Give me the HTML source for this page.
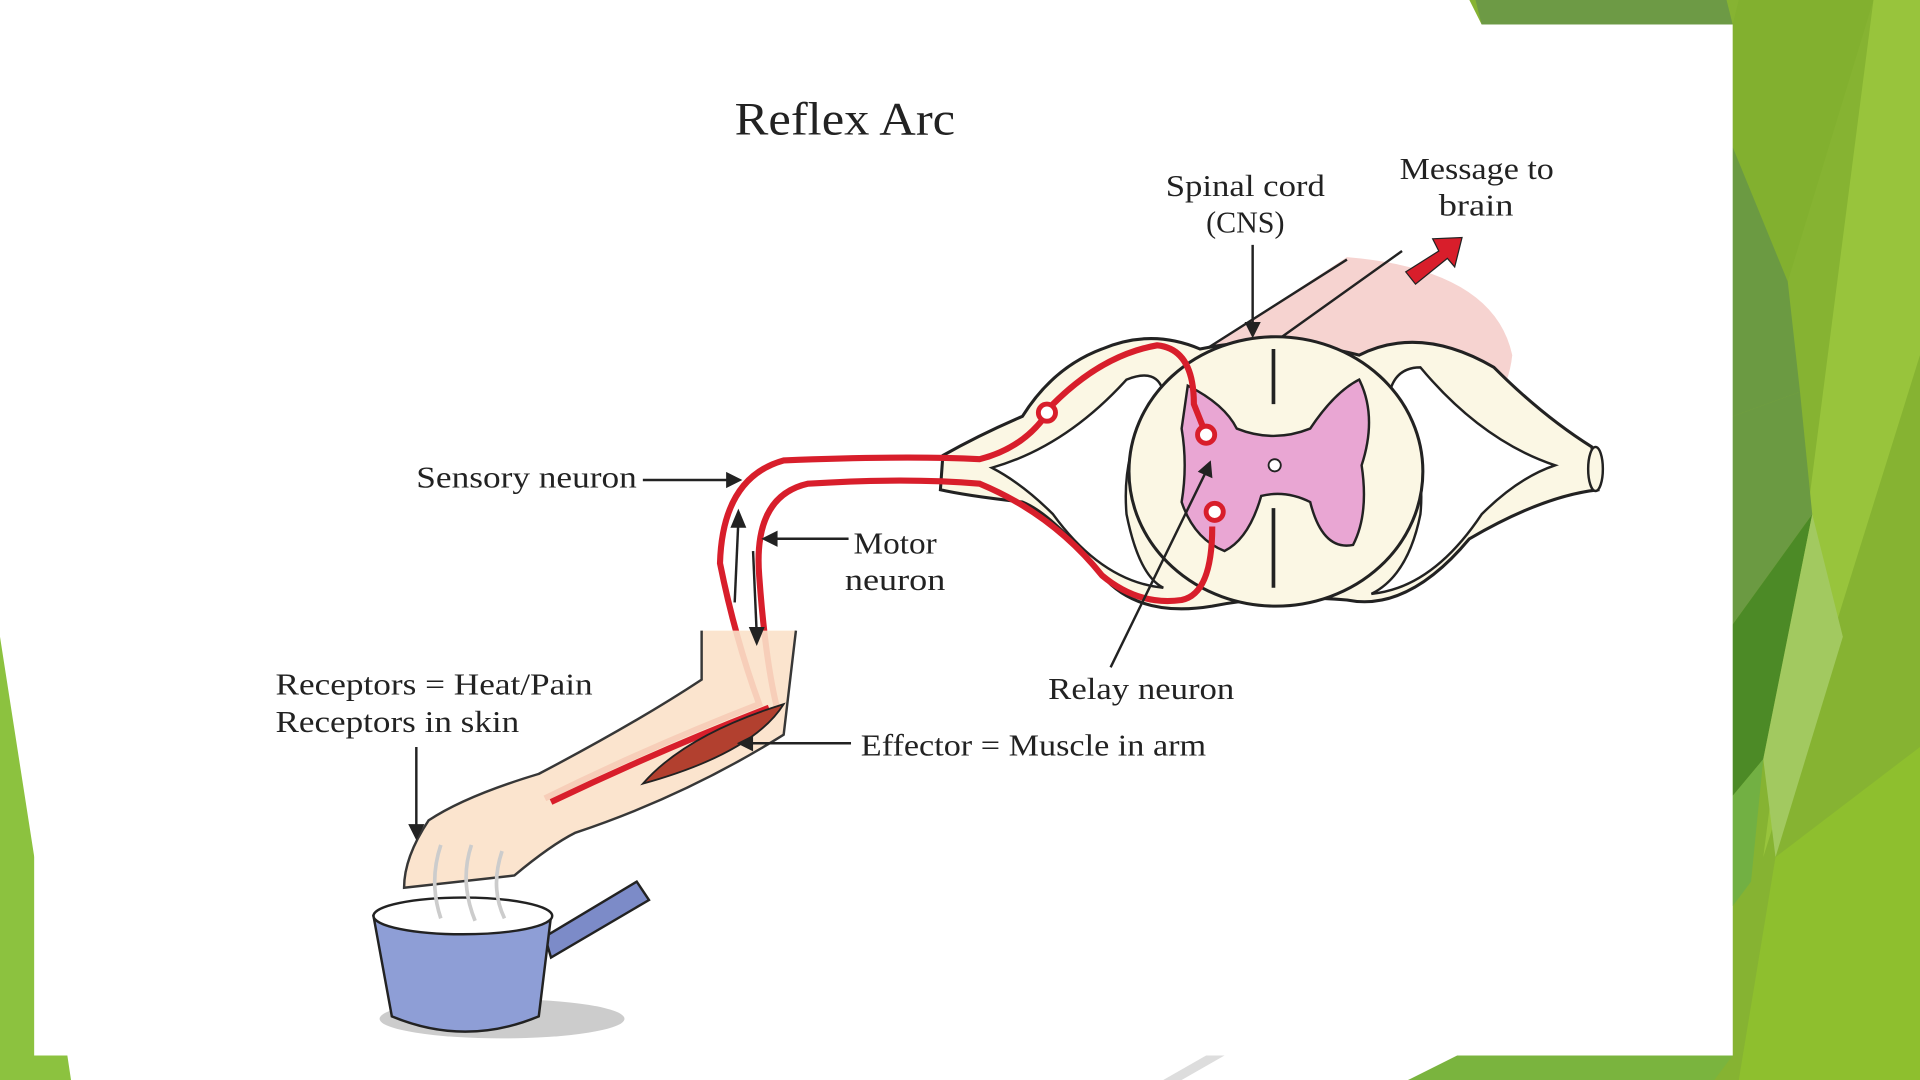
<!DOCTYPE html>
<html><head><style>html,body{margin:0;padding:0;background:#fff}svg{display:block}
text{font-family:"Liberation Serif",serif;fill:#222}</style></head><body>
<svg width="1920" height="1080" viewBox="0 0 1568 882" preserveAspectRatio="none">
<rect width="1568" height="882" fill="#fff"/>
<polygon points="1200,0 1568,0 1568,882 1150,882 1200,862 1415,862 1415,20 1210,20" fill="#86b332"/>
<polygon points="1205,0 1410,0 1415,20 1210,20" fill="#6d9a45"/>
<polygon points="1415,20 1420,0 1530,0 1460,230 1415,120" fill="#82b02f"/>
<polygon points="1530,0 1568,0 1568,290 1440,700" fill="#98c43c"/>
<polygon points="1415,120 1460,230 1470,320 1415,340" fill="#6b9a42"/>
<polygon points="1415,340 1470,320 1480,420 1415,510" fill="#6b9a42"/>
<polygon points="1415,510 1480,420 1440,620 1415,650" fill="#4c8a26"/>
<polygon points="1440,620 1480,420 1505,520 1450,700" fill="#a2c960"/>
<polygon points="1415,650 1440,620 1430,720 1415,740" fill="#72b043"/>
<polygon points="1450,700 1568,610 1568,882 1420,882" fill="#8ebf2e"/>
<polygon points="1150,882 1190,862 1415,862 1400,882" fill="#7ab43e"/>
<polygon points="0,520 28,700 28,862 55,862 58,882 0,882" fill="#8cc23f"/>
<rect x="28" y="20" width="1387" height="842" fill="#fff"/>
<polygon points="950,882 985,862 1000,862 965,882" fill="#ddd"/>

<text x="600" y="110" font-size="38" textLength="180" lengthAdjust="spacingAndGlyphs" fill="#111">Reflex Arc</text>

<path d="M985,285 L1100,210 Q1220,220 1235,290 Q1230,340 1170,380 L1140,380 Z" fill="#f6d3d0"/>
<path d="M985,285 L1100,212 M1040,280 L1145,205" stroke="#222" stroke-width="2" fill="none"/>
<path d="M770,372 Q800,355 835,340 Q860,300 900,285 Q940,268 980,285 Q1040,272 1110,290 Q1160,265 1220,300 Q1260,340 1300,365 L1305,400 Q1260,405 1200,440 Q1150,500 1100,490 Q1040,485 990,495 Q930,505 900,470 Q860,420 835,410 Q790,405 768,400 Z" fill="#fbf7e4" stroke="#222" stroke-width="2.5"/>
<path d="M810,382 Q870,365 920,310 Q945,300 950,320 Q915,360 920,420 Q930,470 950,480 Q900,475 860,420 Q835,395 810,382 Z" fill="#fff" stroke="#222" stroke-width="2"/>
<path d="M1270,380 Q1210,360 1160,300 Q1140,300 1135,320 Q1165,370 1160,420 Q1150,470 1120,485 Q1170,480 1210,420 Q1240,390 1270,380 Z" fill="#fff" stroke="#222" stroke-width="2"/>
<ellipse cx="1042" cy="385" rx="120" ry="110" fill="#fbf7e4" stroke="#222" stroke-width="2.5"/>
<ellipse cx="1303" cy="383" rx="6" ry="18" fill="#fbf7e4" stroke="#222" stroke-width="2"/>
<path d="M970,315 Q1000,330 1010,350 Q1040,362 1070,350 Q1090,320 1110,310 Q1125,340 1112,380 Q1118,420 1105,445 Q1080,450 1070,410 Q1050,400 1030,405 Q1020,440 1000,450 Q975,440 965,410 Q970,380 965,350 Z" fill="#e9a6d3" stroke="#222" stroke-width="2"/>
<circle cx="1041" cy="380" r="5" fill="#fff" stroke="#222" stroke-width="1.5"/>
<path d="M1040,285 L1040,330 M1040,415 L1040,480" stroke="#222" stroke-width="3"/>
<path d="M445,652 Q530,610 620,575 Q600,520 588,460 Q590,390 640,376 Q740,372 800,375 Q840,365 860,330 Q900,290 945,282 Q975,285 975,330 L985,355" fill="none" stroke="#d81e2b" stroke-width="5"/>
<path d="M635,580 Q625,540 620,470 Q615,405 660,395 Q740,390 800,395 Q860,420 900,470 Q930,495 965,490 Q990,485 990,430" fill="none" stroke="#d81e2b" stroke-width="5"/>
<circle cx="855" cy="337" r="7" fill="#fff" stroke="#d81e2b" stroke-width="4"/>
<circle cx="985" cy="355" r="7" fill="#fff" stroke="#d81e2b" stroke-width="4"/>
<circle cx="992" cy="418" r="7" fill="#fff" stroke="#d81e2b" stroke-width="4"/>
<path d="M573,515 L573,555 Q520,590 440,632 Q380,650 350,670 Q330,700 330,725 L420,715 Q450,690 470,680 Q560,650 640,600 L650,515" fill="#fbe2c9" stroke="#222" stroke-width="2" opacity="0.9"/>
<path d="M450,655 Q540,612 628,578" fill="none" stroke="#d81e2b" stroke-width="5"/>
<path d="M525,640 Q560,600 640,575 Q615,615 525,640 Z" fill="#b2402f" stroke="#222" stroke-width="1.5"/>
<ellipse cx="410" cy="832" rx="100" ry="16" fill="#ccc"/>
<path d="M445,765 L520,720 L530,735 L450,782 Z" fill="#7c8bc8" stroke="#222" stroke-width="2"/>
<path d="M305,748 L320,830 Q380,855 440,830 L450,748 Z" fill="#8e9ed6" stroke="#222" stroke-width="2"/>
<ellipse cx="378" cy="748" rx="73" ry="15" fill="#fff" stroke="#222" stroke-width="2"/>
<path d="M360,690 Q350,720 360,750 M385,690 Q375,720 388,752 M410,695 Q400,725 412,750" stroke="#ccc" stroke-width="3" fill="none"/>
<polygon points="1148,222 1175,205 1170,195 1194,194 1188,218 1182,211 1156,232" fill="#d81e2b" stroke="#222" stroke-width="1"/>
<g stroke="#222" stroke-width="2" fill="#222">
<line x1="525" y1="392" x2="598" y2="392"/><polygon points="604,392 594,387 594,397"/>
<line x1="693" y1="440" x2="630" y2="440"/><polygon points="624,440 634,435 634,445"/>
<line x1="695" y1="607" x2="610" y2="607"/><polygon points="604,607 614,602 614,612"/>
<line x1="340" y1="610" x2="340" y2="678"/><polygon points="340,684 335,674 345,674"/>
<line x1="1023" y1="200" x2="1023" y2="268"/><polygon points="1023,274 1018,264 1028,264"/>
<line x1="907" y1="545" x2="985" y2="385"/><polygon points="988,378 980,385 989,389"/>
<line x1="603" y1="425" x2="600" y2="492"/><polygon points="603,418 598,430 608,430"/>
<line x1="615" y1="450" x2="618" y2="518"/><polygon points="618,525 613,513 623,513"/>
</g>
<g font-size="25" lengthAdjust="spacingAndGlyphs">
<text x="340" y="398" textLength="180" lengthAdjust="spacingAndGlyphs">Sensory neuron</text>
<text x="697" y="452" textLength="68" lengthAdjust="spacingAndGlyphs">Motor</text>
<text x="690" y="482" textLength="82" lengthAdjust="spacingAndGlyphs">neuron</text>
<text x="225" y="567" textLength="259" lengthAdjust="spacingAndGlyphs">Receptors = Heat/Pain</text>
<text x="225" y="598" textLength="199" lengthAdjust="spacingAndGlyphs">Receptors in skin</text>
<text x="703" y="617" textLength="282" lengthAdjust="spacingAndGlyphs">Effector = Muscle in arm</text>
<text x="856" y="571" textLength="152" lengthAdjust="spacingAndGlyphs">Relay neuron</text>
<text x="952" y="160" textLength="130" lengthAdjust="spacingAndGlyphs">Spinal cord</text>
<text x="985" y="190" textLength="64" lengthAdjust="spacingAndGlyphs">(CNS)</text>
<text x="1143" y="146" textLength="126" lengthAdjust="spacingAndGlyphs">Message to</text>
<text x="1175" y="176" textLength="61" lengthAdjust="spacingAndGlyphs">brain</text>
</g>
</svg>
</body></html>
